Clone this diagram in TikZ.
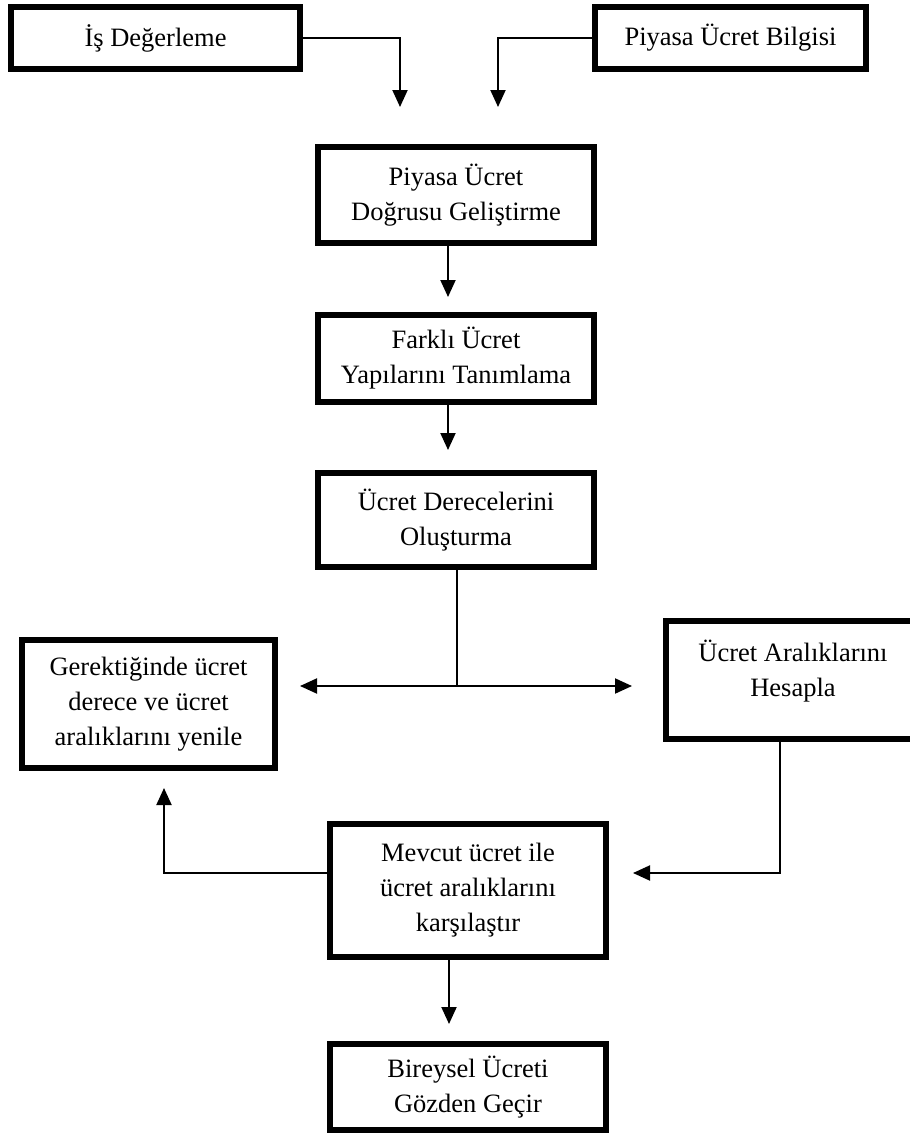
\documentclass[tikz,border=0pt]{standalone}
\usepackage{fontspec}
\setmainfont{Liberation Serif}
\usetikzlibrary{arrows.meta}
\newcommand\boxfont{\fontsize{26.5}{35}\selectfont}
\tikzset{
  box/.style={draw, line width=6pt, inner sep=0pt, align=center, font=\boxfont},
  plain/.style={draw, inner sep=0pt, align=center, font=\boxfont},
  conn/.style={line width=2pt},
  arr/.style={line width=2pt, -{Triangle[length=17pt,width=15pt]}},
  darr/.style={line width=2pt, {Triangle[length=17pt,width=15pt]}-{Triangle[length=17pt,width=15pt]}},
}
\begin{document}
\begin{tikzpicture}[x=1pt,y=-1pt]
\useasboundingbox (0,0) rectangle (910,1135);
\fill[white] (0,0) rectangle (910,1135);
\clip (0,0) rectangle (910,1135);

% process boxes
\node[box, minimum width=289pt, minimum height=62pt] (is) at (155.5,38) {İş Değerleme};
\node[box, minimum width=271pt, minimum height=62pt] (piy) at (730.5,38) {Piyasa Ücret Bilgisi};
\node[box, minimum width=276pt, minimum height=96pt] (dog) at (456,195) {Piyasa Ücret\\Doğrusu Geliştirme};
\node[box, minimum width=276pt, minimum height=87pt] (fark) at (456,358.5) {Farklı Ücret\\Yapılarını Tanımlama};
\node[box, minimum width=276pt, minimum height=94pt] (der) at (456,520) {Ücret Derecelerini\\Oluşturma};
\node[box, minimum width=253pt, minimum height=128pt] (yen) at (148.5,704) {Gerektiğinde ücret\\derece ve ücret\\aralıklarını yenile};
\node[box, minimum width=254pt, minimum height=118pt] (ara) at (793,680) {};
\node[font=\boxfont, align=center, inner sep=0pt] (aratxt) at (793,671.5) {Ücret Aralıklarını\\Hesapla};
\node[box, minimum width=276pt, minimum height=133pt] (mev) at (468,890.5) {Mevcut ücret ile\\ücret aralıklarını\\karşılaştır};
\node[box, minimum width=276pt, minimum height=86pt] (bir) at (468,1087) {Bireysel Ücreti\\Gözden Geçir};

% connector columns and free ends
\coordinate (t1) at (400,107);
\coordinate (t2) at (498,107);
\coordinate (c448) at (448,0);
\coordinate (c457) at (457,0);
\coordinate (c449) at (449,0);
\coordinate (c780) at (780,0);
\coordinate (jn) at (457,686);
\coordinate (tl) at (300,686);
\coordinate (tr) at (632,686);
\coordinate (tm) at (633,873);
\coordinate (ty) at (164,788);

% connectors
\draw[arr] (is.east) -| (t1);
\draw[arr] (piy.west) -| (t2);
\draw[arr, shorten >=15pt] (dog.south -| c448) -- (fark.north -| c448);
\draw[arr, shorten >=20pt] (fark.south -| c448) -- (der.north -| c448);
\draw[conn] (der.south -| c457) -- (jn);
\draw[darr] (tl) -- (tr);
\draw[arr] (ara.south -| c780) |- (tm);
\draw[arr] (mev.west |- tm) -| (ty);
\draw[arr, shorten >=17pt] (mev.south -| c449) -- (bir.north -| c449);
\end{tikzpicture}
\end{document}
